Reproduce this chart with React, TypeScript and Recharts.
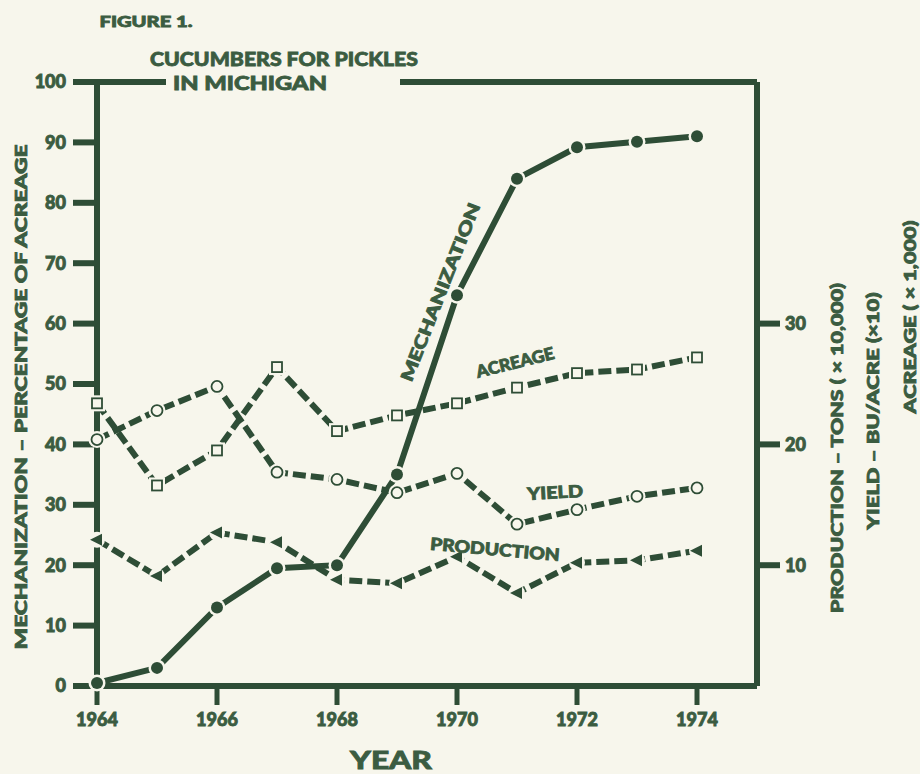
import { ComposedChart, Line, XAxis, YAxis, ReferenceLine } from "recharts";

const years = [1964, 1965, 1966, 1967, 1968, 1969, 1970, 1971, 1972, 1973, 1974];
// percent of acreage (left axis)
const mechanization = [0.5, 3, 13, 19.5, 20, 35, 64.7, 84, 89.2, 90.1, 91];
// right axis units
const acreage = [23.4, 16.6, 19.5, 26.4, 21.1, 22.4, 23.4, 24.7, 25.9, 26.2, 27.2];
const yieldBu = [20.4, 22.8, 24.8, 17.7, 17.1, 16, 17.6, 13.4, 14.6, 15.7, 16.4];
const production = [12.1, 9.1, 12.7, 11.9, 8.8, 8.5, 10.7, 7.7, 10.2, 10.4, 11.2];

const leftTicks = [0, 10, 20, 30, 40, 50, 60, 70, 80, 90, 100];
const rightTicks = [10, 20, 30];
const yearTicks = [1964, 1966, 1968, 1970, 1972, 1974];

const data = years.map((year, i) => ({
  year,
  mechanization: mechanization[i],
  acreage: acreage[i],
  yieldBu: yieldBu[i],
  production: production[i],
}));

const INK = "#2e4d36";
const TEXT = "#3b5c41";
const PAPER = "#f7f6ec";
const FONT = "Lato, 'Open Sans', sans-serif";

const tickStyle = {
  fill: TEXT,
  stroke: TEXT,
  strokeWidth: 0.9,
  fontSize: 18,
  fontWeight: 900,
  fontFamily: FONT,
};

function FilledDot(props: any) {
  const { cx, cy, index } = props;
  return (
    <g key={`m${index}`}>
      <circle cx={cx} cy={cy} r={8.5} fill={PAPER} />
      <circle cx={cx} cy={cy} r={6} fill={INK} />
    </g>
  );
}

function SquareDot(props: any) {
  const { cx, cy, index } = props;
  return (
    <g key={`a${index}`}>
      <rect x={cx - 8} y={cy - 8} width={16} height={16} fill={PAPER} />
      <rect x={cx - 5} y={cy - 5} width={10} height={10} fill={PAPER} stroke={INK} strokeWidth={1.8} />
    </g>
  );
}

function OpenDot(props: any) {
  const { cx, cy, index } = props;
  return (
    <g key={`y${index}`}>
      <circle cx={cx} cy={cy} r={8.5} fill={PAPER} />
      <circle cx={cx} cy={cy} r={5.5} fill={PAPER} stroke={INK} strokeWidth={1.8} />
    </g>
  );
}

function TriangleDot(props: any) {
  const { cx, cy, index } = props;
  return (
    <g key={`p${index}`}>
      <circle cx={cx} cy={cy} r={8} fill={PAPER} />
      <path d={`M${cx - 7},${cy} L${cx + 5},${cy - 6} L${cx + 5},${cy + 6} Z`} fill={INK} />
    </g>
  );
}

function Txt({ x, y, len, size, rot = 0, children }: any) {
  return (
    <text
      x={x}
      y={y}
      textAnchor="middle"
      dominantBaseline="central"
      fontFamily={FONT}
      fontWeight={900}
      fontSize={size}
      fill={TEXT}
      stroke={TEXT}
      strokeWidth={0.8}
      textLength={len}
      lengthAdjust="spacingAndGlyphs"
      transform={rot ? `rotate(${rot} ${x} ${y})` : undefined}
    >
      {children}
    </text>
  );
}

export default function App() {
  return (
    <div style={{ position: "fixed", left: 0, top: 0, width: 920, height: 774, background: PAPER }}>
      <ComposedChart
        width={920}
        height={774}
        data={data}
        margin={{ top: 82, right: 103, bottom: 28, left: 30 }}
      >
        <XAxis
          dataKey="year"
          type="number"
          domain={[1964, 1975]}
          ticks={yearTicks}
          height={60}
          tick={tickStyle}
          tickSize={19}
          tickMargin={8}
          axisLine={{ stroke: INK, strokeWidth: 6 }}
          tickLine={{ stroke: INK, strokeWidth: 5 }}
        />
        <YAxis
          yAxisId="left"
          domain={[0, 100]}
          ticks={leftTicks}
          width={67}
          tick={tickStyle}
          tickSize={24}
          tickMargin={7}
          axisLine={{ stroke: INK, strokeWidth: 6 }}
          tickLine={{ stroke: INK, strokeWidth: 6 }}
          interval={0}
        />
        <YAxis
          yAxisId="right"
          orientation="right"
          domain={[0, 50]}
          ticks={rightTicks}
          width={60}
          tick={tickStyle}
          tickSize={23}
          tickMargin={5}
          axisLine={{ stroke: INK, strokeWidth: 6 }}
          tickLine={{ stroke: INK, strokeWidth: 6 }}
        />
        <ReferenceLine
          yAxisId="left"
          segment={[{ x: 1964, y: 100 }, { x: 1965.15, y: 100 }]}
          stroke={INK}
          strokeWidth={6}
        />
        <ReferenceLine
          yAxisId="left"
          segment={[{ x: 1969.05, y: 100 }, { x: 1975, y: 100 }]}
          stroke={INK}
          strokeWidth={6}
        />
        <Line
          yAxisId="right"
          dataKey="production"
          stroke={INK}
          strokeWidth={6}
          strokeDasharray="13 5"
          dot={TriangleDot}
          isAnimationActive={false}
        />
        <Line
          yAxisId="right"
          dataKey="yieldBu"
          stroke={INK}
          strokeWidth={6}
          strokeDasharray="13 5"
          dot={OpenDot}
          isAnimationActive={false}
        />
        <Line
          yAxisId="right"
          dataKey="acreage"
          stroke={INK}
          strokeWidth={6}
          strokeDasharray="13 5"
          dot={SquareDot}
          isAnimationActive={false}
        />
        <Line
          yAxisId="left"
          dataKey="mechanization"
          stroke={INK}
          strokeWidth={6}
          dot={FilledDot}
          isAnimationActive={false}
        />
      </ComposedChart>
      <svg
        width={920}
        height={774}
        style={{ position: "absolute", left: 0, top: 0, pointerEvents: "none" }}
      >
        <Txt x={146} y={21} len={93} size={15}>FIGURE 1.</Txt>
        <Txt x={284} y={58} len={268} size={19}>CUCUMBERS FOR PICKLES</Txt>
        <Txt x={250} y={82} len={154} size={19}>IN MICHIGAN</Txt>
        <Txt x={20} y={397} len={505} size={16} rot={-90}>MECHANIZATION – PERCENTAGE OF ACREAGE</Txt>
        <Txt x={836} y={448} len={330} size={16} rot={-90}>PRODUCTION – TONS ( × 10,000)</Txt>
        <Txt x={872} y={411} len={237} size={16} rot={-90}>YIELD – BU/ACRE (×10)</Txt>
        <Txt x={909} y={317} len={193} size={16} rot={-90}>ACREAGE ( × 1,000)</Txt>
        <Txt x={440} y={292} len={190} size={17} rot={-68.6}>MECHANIZATION</Txt>
        <Txt x={515} y={362} len={80} size={17} rot={-14}>ACREAGE</Txt>
        <Txt x={555} y={492} len={56} size={17} rot={-3}>YIELD</Txt>
        <Txt x={495} y={549} len={130} size={17} rot={5}>PRODUCTION</Txt>
        <Txt x={391} y={759} len={82} size={24}>YEAR</Txt>
      </svg>
    </div>
  );
}
